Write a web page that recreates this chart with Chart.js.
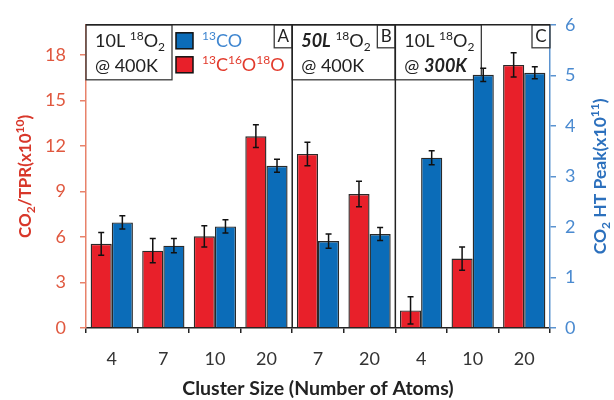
<!DOCTYPE html>
<html>
<head>
<meta charset="utf-8">
<script src="https://cdn.jsdelivr.net/npm/chart.js@4.4.1/dist/chart.umd.min.js"></script>
<style>
  html,body{margin:0;padding:0;background:#fff;}
  #wrap{width:614px;height:400px;}
</style>
</head>
<body>
<div id="wrap"><canvas id="chart" width="614" height="400"></canvas></div>
<script>
// ====== Data ======
const clusterSizes = ['4','7','10','20','7','20','4','10','20'];
const tprValues  = [5.55, 5.1, 6.05, 12.65, 11.48, 8.84, 1.16, 4.58, 17.35];
const tprErrors  = [0.75, 0.8, 0.7, 0.75, 0.77, 0.84, 0.9, 0.77, 0.8];
const peakValues = [2.09, 1.63, 2.01, 3.21, 1.72, 1.86, 3.37, 5.01, 5.05];
const peakErrors = [0.13, 0.14, 0.13, 0.13, 0.14, 0.13, 0.14, 0.13, 0.12];
const tprTicks  = [0, 3, 6, 9, 12, 15, 18];
const peakTicks = [0, 1, 2, 3, 4, 5, 6];

// panels: first category index of each panel
const panelStarts  = [0, 4, 6];
const panelLetters = ['A', 'B', 'C'];
// rich text: [text, kind] kind = sup | sub | bi (bold italic)
const panelLine1 = [
  [['10L '], ['18','sup'], ['O'], ['2','sub']],
  [['50L','bi'], [' '], ['18','sup'], ['O'], ['2','sub']],
  [['10L '], ['18','sup'], ['O'], ['2','sub']]
];
const panelLine2 = [
  [['@ 400K']],
  [['@ 400K']],
  [['@ '], ['300K','bi']]
];
const nameTpr  = [['13','sup'], ['C'], ['16','sup'], ['O'], ['18','sup'], ['O']];
const namePeak = [['13','sup'], ['CO']];
const titleLeft  = [['CO'], ['2','sub'], ['/TPR(x10'], ['10','sup'], [')']];
const titleRight = [['CO'], ['2','sub'], [' HT Peak(x10'], ['11','sup'], [')']];

// ====== Style ======
const FONT = 'Lato, "Open Sans", sans-serif';
const RED = '#e8202a', BLUE = '#0b6cb8', EDGE = '#2a2a2a';
Chart.defaults.font.family = FONT;

// ====== Rich text helpers ======
function segFont(kind, size, bold){
  const small = kind === 'sup' || kind === 'sub';
  const s = small ? Math.round(size * 0.68) : size;
  const st = kind === 'bi' ? 'italic bold ' : (bold ? 'bold ' : '');
  return `${st}${s}px ${FONT}`;
}
function richWidth(ctx, segs, size, bold){
  let w = 0;
  segs.forEach(([t, k]) => { ctx.font = segFont(k, size, bold); w += ctx.measureText(t).width; });
  return w;
}
function drawRich(ctx, segs, x, y, size, bold){
  ctx.textAlign = 'left'; ctx.textBaseline = 'alphabetic';
  segs.forEach(([t, k]) => {
    ctx.font = segFont(k, size, bold);
    const dy = k === 'sup' ? -size * 0.4 : k === 'sub' ? size * 0.22 : 0;
    ctx.fillText(t, x, y + dy);
    x += ctx.measureText(t).width;
  });
  return x;
}
function vTitle(ctx, segs, cx, cy, size, color){
  ctx.save();
  ctx.translate(cx, cy); ctx.rotate(-Math.PI / 2);
  ctx.fillStyle = color;
  const w = richWidth(ctx, segs, size, true);
  drawRich(ctx, segs, -w / 2, size * 0.36, size, true);
  ctx.restore();
}

// boundary x between category i-1 and i
function edgeX(xs, i){
  const n = clusterSizes.length;
  if (i <= 0) return xs.left;
  if (i >= n) return xs.right;
  return (xs.getPixelForValue(i - 1) + xs.getPixelForValue(i)) / 2;
}

// ====== Plugin: panels, error bars, titles ======
const panelPlugin = {
  id: 'panels',
  beforeDatasetsDraw(chart){
    const {ctx, chartArea: a, scales: {x: xs}} = chart;
    const top = a.top;
    ctx.save();
    ctx.strokeStyle = '#3a3a3a'; ctx.lineWidth = 1.3;
    panelStarts.forEach((s, p) => {
      const l = edgeX(xs, s);
      const r = edgeX(xs, p + 1 < panelStarts.length ? panelStarts[p + 1] : clusterSizes.length);
      const boxR = p === 1 ? r : l + 86;
      ctx.strokeRect(l, top, boxR - l, 55);
      ctx.fillStyle = '#222';
      drawRich(ctx, panelLine1[p], l + 9, top + 22, 18, false);
      drawRich(ctx, panelLine2[p], l + 9, top + 47, 18, false);
      // letter box
      ctx.strokeRect(r - 18, top, 18, 23);
      ctx.font = `17px ${FONT}`; ctx.textAlign = 'center'; ctx.textBaseline = 'middle';
      ctx.fillStyle = '#222';
      ctx.fillText(panelLetters[p], r - 9, top + 12);
    });
    // legend
    const lx = edgeX(xs, 0) + 90;
    ctx.lineWidth = 1.5; ctx.strokeStyle = '#111';
    ctx.fillStyle = BLUE; ctx.fillRect(lx, top + 8, 17, 16); ctx.strokeRect(lx, top + 8, 17, 16);
    ctx.fillStyle = RED;  ctx.fillRect(lx, top + 32, 17, 16); ctx.strokeRect(lx, top + 32, 17, 16);
    ctx.fillStyle = '#3f86d0'; drawRich(ctx, namePeak, lx + 26, top + 22, 18, false);
    ctx.fillStyle = '#e23a2c'; drawRich(ctx, nameTpr, lx + 26, top + 46, 18, false);
    ctx.restore();
  },
  afterDatasetsDraw(chart){
    const {ctx, chartArea: a, scales: {x: xs}} = chart;
    ctx.save();
    // error bars
    ctx.strokeStyle = '#111'; ctx.lineWidth = 1.5;
    chart.data.datasets.forEach((ds, di) => {
      const meta = chart.getDatasetMeta(di);
      const ys = chart.scales[ds.yAxisID];
      meta.data.forEach((bar, i) => {
        const v = ds.data[i], e = ds.errors[i];
        const y1 = ys.getPixelForValue(v + e), y2 = ys.getPixelForValue(Math.max(0, v - e));
        ctx.beginPath();
        ctx.moveTo(bar.x, y1); ctx.lineTo(bar.x, y2);
        ctx.moveTo(bar.x - 3, y1); ctx.lineTo(bar.x + 3, y1);
        ctx.moveTo(bar.x - 3, y2); ctx.lineTo(bar.x + 3, y2);
        ctx.stroke();
      });
    });
    // top frame and panel separators
    ctx.strokeStyle = '#222'; ctx.lineWidth = 1.5;
    ctx.beginPath();
    ctx.moveTo(a.left, a.top); ctx.lineTo(a.right, a.top);
    panelStarts.slice(1).forEach(s => {
      const x = edgeX(xs, s);
      ctx.moveTo(x, a.top); ctx.lineTo(x, a.bottom);
    });
    ctx.stroke();
    ctx.restore();
  },
  afterDraw(chart){
    const {ctx, chartArea: a} = chart;
    const cy = (a.top + a.bottom) / 2;
    vTitle(ctx, titleLeft, 25, cy, 17, '#d8372a');
    vTitle(ctx, titleRight, 600, cy, 17.5, '#2c70bd');
  }
};

// ====== Chart ======
const barStyle = { borderColor: EDGE, borderWidth: 1.4, categoryPercentage: 0.82, barPercentage: 1 };
new Chart(document.getElementById('chart'), {
  type: 'bar',
  data: {
    labels: clusterSizes,
    datasets: [
      { label: '13C16O18O', data: tprValues, errors: tprErrors, yAxisID: 'y', backgroundColor: RED, ...barStyle },
      { label: '13CO', data: peakValues, errors: peakErrors, yAxisID: 'y1', backgroundColor: BLUE, ...barStyle }
    ]
  },
  options: {
    responsive: false,
    animation: false,
    layout: { padding: { top: 18, left: 0, right: 0, bottom: 0 } },
    plugins: { legend: { display: false }, tooltip: { enabled: false } },
    scales: {
      x: {
        grid: { offset: true, drawOnChartArea: false, tickLength: 5, color: '#222', lineWidth: 1.5 },
        border: { color: '#222', width: 1.5 },
        ticks: { color: '#333', font: { size: 18 }, padding: 15, maxRotation: 0, autoSkip: false },
        title: { display: true, text: 'Cluster Size (Number of Atoms)', color: '#222', font: { size: 19.5, weight: 'bold' }, padding: { top: 0, bottom: 0 } },
        afterFit: s => { s.height = 72; }
      },
      y: {
        position: 'left', min: 0, max: 20,
        afterBuildTicks: s => { s.ticks = tprTicks.map(v => ({ value: v })); },
        grid: { drawOnChartArea: false, tickLength: 6, color: '#e8826a', lineWidth: 1.5 },
        border: { color: '#e8826a', width: 1.5 },
        ticks: { color: '#e0583f', font: { size: 18 }, padding: 14 },
        afterFit: s => { s.width = 86; }
      },
      y1: {
        position: 'right', min: 0, max: 6,
        afterBuildTicks: s => { s.ticks = peakTicks.map(v => ({ value: v })); },
        grid: { drawOnChartArea: false, tickLength: 6, color: '#5b93d0', lineWidth: 1.5 },
        border: { color: '#5b93d0', width: 1.5 },
        ticks: { color: '#4a8ad0', font: { size: 18 }, padding: 9 },
        afterFit: s => { s.width = 64; }
      }
    }
  },
  plugins: [panelPlugin]
});
</script>
</body>
</html>
